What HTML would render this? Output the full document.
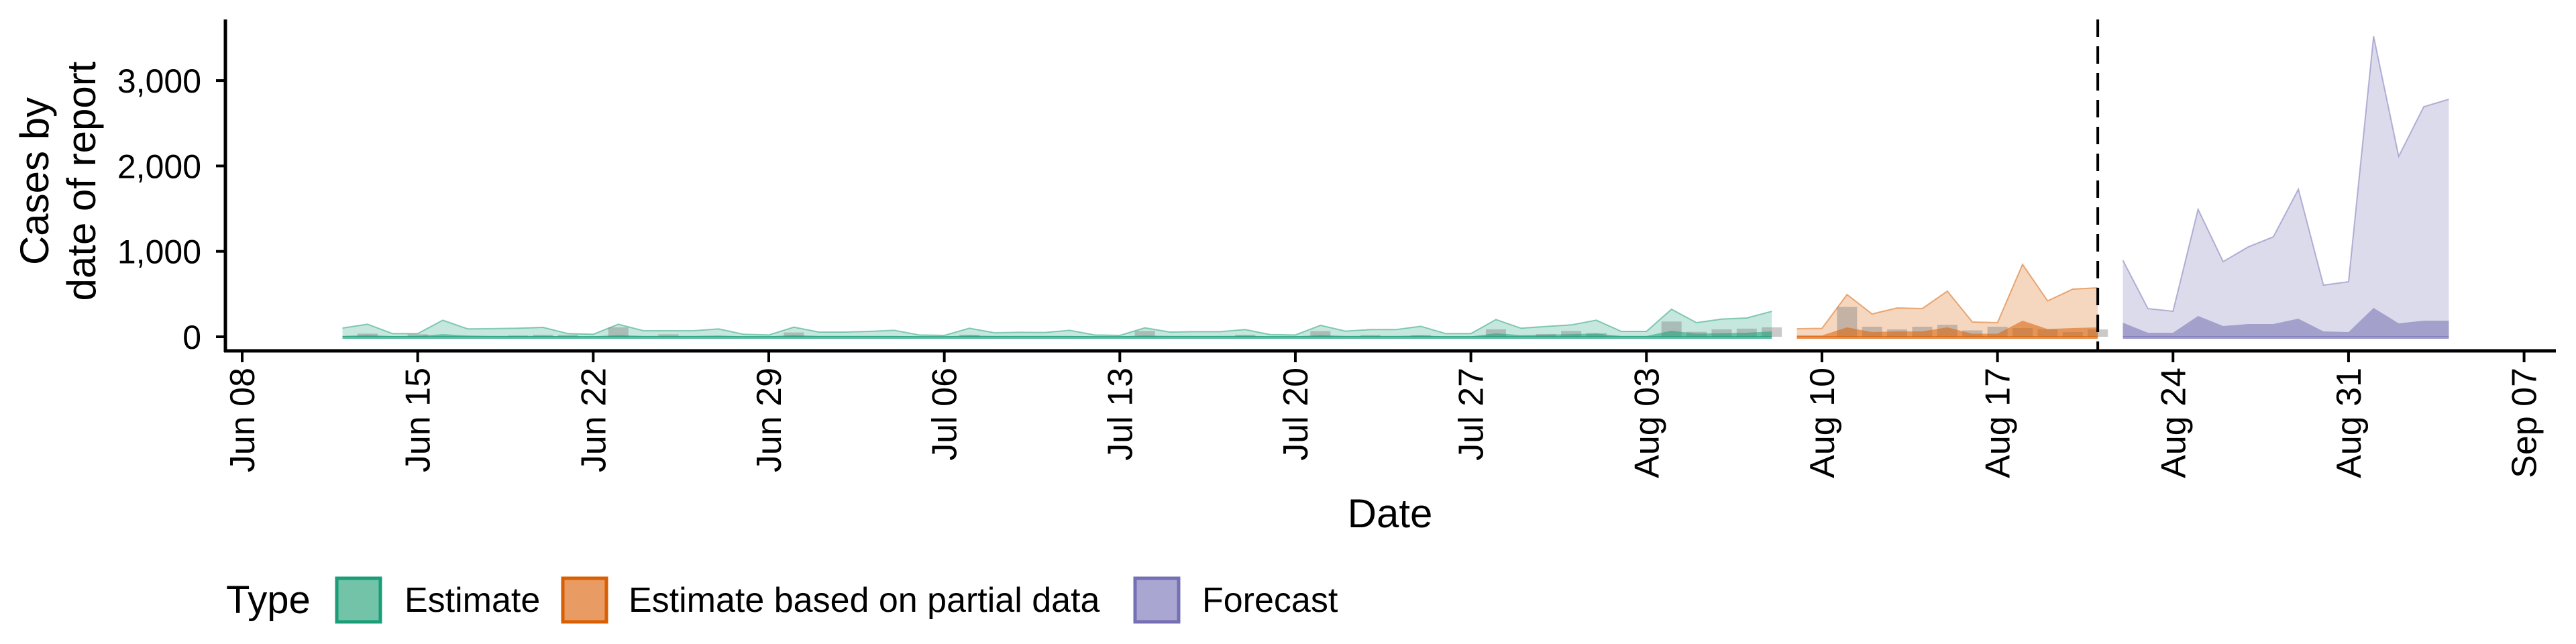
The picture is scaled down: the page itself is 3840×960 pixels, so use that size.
<!DOCTYPE html>
<html><head><meta charset="utf-8"><style>
html,body{margin:0;padding:0;background:#fff;}
svg{display:block;font-family:"Liberation Sans",sans-serif;}
</style></head><body>
<svg id="chart" width="3840" height="960" viewBox="0 0 3840 960" xmlns="http://www.w3.org/2000/svg">
<g id="marks"></g>
<g id="axes"></g>
<text transform="translate(72,270) rotate(-90)" text-anchor="middle" font-size="60">Cases by</text>
<text transform="translate(142,270) rotate(-90)" text-anchor="middle" font-size="60">date of report</text>
<text x="2072" y="786" text-anchor="middle" font-size="60">Date</text>
<g>
<text x="337" y="914" font-size="58">Type</text>
<g>
<rect x="502" y="862" width="65" height="65" fill="#72c3a8" stroke="#1B9E77" stroke-width="5"/>
<text x="603" y="912" font-size="52">Estimate</text></g>
<g>
<rect x="839" y="862" width="65" height="65" fill="#e89b62" stroke="#D95F02" stroke-width="5"/>
<text x="937" y="912" font-size="52">Estimate based on partial data</text></g>
<g>
<rect x="1692" y="862" width="65" height="65" fill="#a9a6d2" stroke="#7570B3" stroke-width="5"/>
<text x="1792" y="912" font-size="52">Forecast</text></g>
</g>
</svg>
<script>
// day index 0 = Jun 08
const estStart = 4;
const estUpper = [102,147,37,37,194,92,95,100,110,37,29,147,71,71,71,92,29,21,113,55,55,63,76,21,16,100,47,52,50,76,21,16,105,55,60,60,84,26,21,134,66,84,84,123,37,37,202,100,121,139,194,63,63,322,165,207,220,298];
const estInner = [10,20,8,10,30,15,10,10,10,5,5,20,10,10,10,15,5,5,20,10,10,10,10,5,5,15,10,10,10,10,5,5,15,10,10,10,12,5,5,20,10,10,10,15,5,5,40,20,25,30,37,10,10,71,37,42,47,63];
const partStart = 62;
const partUpper = [94,98,495,267,338,330,534,173,165,848,420,558,573];
const partInner = [16,16,110,55,63,63,110,35,35,189,90,102,110];
const fcStart = 75;
const fcUpper = [896,330,299,1493,880,1052,1170,1728,605,644,3519,2113,2694,2781];
const fcInner = [165,47,47,244,126,149,149,212,63,55,338,157,189,189];
const barDays = [5,7,11,12,13,15,17,22,29,36,40,43,45,47,50,52,53,54,57,58,59,60,61,64,65,66,67,68,69,70,71,72,73,74];
const barValues = [37,29,15,24,24,110,29,50,24,68,24,66,20,20,87,32,68,42,178,58,87,95,110,350,118,86,118,141,75,118,102,86,55,86];
const yTicks = [0,1000,2000,3000];
const yTickLabels = ["0","1,000","2,000","3,000"];
const xTickDays = [0,7,14,21,28,35,42,49,56,63,70,77,84,91];
const xTickLabels = ["Jun 08","Jun 15","Jun 22","Jun 29","Jul 06","Jul 13","Jul 20","Jul 27","Aug 03","Aug 10","Aug 17","Aug 24","Aug 31","Sep 07"];
const forecastDate = 74;

const NS="http://www.w3.org/2000/svg";
function xs(d){return 361+d*37.38;}
function ys(v){return 502-v*0.1273;}
const marks=document.getElementById('marks');
const axes=document.getElementById('axes');
function mk(tag,attrs,parent){const e=document.createElementNS(NS,tag);for(const k in attrs)e.setAttribute(k,attrs[k]);parent.appendChild(e);return e;}
function areaPath(start,vals){let d='M'+xs(start)+','+ys(0);vals.forEach((v,i)=>{d+=' L'+xs(start+i)+','+ys(v);});d+=' L'+xs(start+vals.length-1)+','+ys(0)+' Z';return d;}
function linePath(start,vals){return vals.map((v,i)=>(i?'L':'M')+xs(start+i)+','+ys(v)).join(' ');}
const groups=[
 {name:'estimate',start:estStart,up:estUpper,inn:estInner,col:'27,158,119'},
 {name:'partial',start:partStart,up:partUpper,inn:partInner,col:'217,95,2'},
 {name:'forecast',start:fcStart,up:fcUpper,inn:fcInner,col:'117,112,179'}];
groups.forEach(g=>{
 const o=mk('path',{d:areaPath(g.start,g.up),fill:'rgba('+g.col+',0.25)'},marks);
 
 
 const l=mk('path',{d:linePath(g.start,g.up),fill:'none',stroke:'rgba('+g.col+',0.5)','stroke-width':2},marks);
 
 
});
barDays.forEach((d,i)=>{
 const r=mk('rect',{x:xs(d)-15,y:ys(barValues[i]),width:30,height:ys(0)-ys(barValues[i]),fill:'rgba(128,128,128,0.42)'},marks);
 
 
});
groups.forEach(g=>{
 const p=mk('path',{d:areaPath(g.start,g.inn),fill:'rgba('+g.col+',0.55)'},marks);
 
 
 const b=mk('line',{x1:xs(g.start),x2:xs(g.start+g.up.length-1),y1:ys(0)+1,y2:ys(0)+1,stroke:'rgba('+g.col+',0.7)','stroke-width':4},marks);
 
 
});
const dl=mk('line',{x1:xs(forecastDate),x2:xs(forecastDate),y1:29,y2:522,stroke:'#000','stroke-width':4,'stroke-dasharray':'26 14'},marks);


// axes
const ya=mk('line',{x1:336,x2:336,y1:29,y2:525,stroke:'#000','stroke-width':5},axes);


const xa=mk('line',{x1:334,x2:3810,y1:523,y2:523,stroke:'#000','stroke-width':5},axes);


yTicks.forEach((v,i)=>{
 const t=mk('line',{x1:322,x2:336,y1:ys(v),y2:ys(v),stroke:'#000','stroke-width':4},axes);
 
 
 const tx=mk('text',{x:300,y:ys(v)+18,'text-anchor':'end','font-size':50},axes);
 tx.textContent=yTickLabels[i];
 
 
});
xTickDays.forEach((d,i)=>{
 const t=mk('line',{x1:xs(d),x2:xs(d),y1:523,y2:540,stroke:'#000','stroke-width':4},axes);
 
 
 const tx=mk('text',{transform:'translate('+xs(d)+',548) rotate(-90)',x:0,y:18,'text-anchor':'end','font-size':52},axes);
 tx.textContent=xTickLabels[i];
 
 
});
</script>
</body></html>
